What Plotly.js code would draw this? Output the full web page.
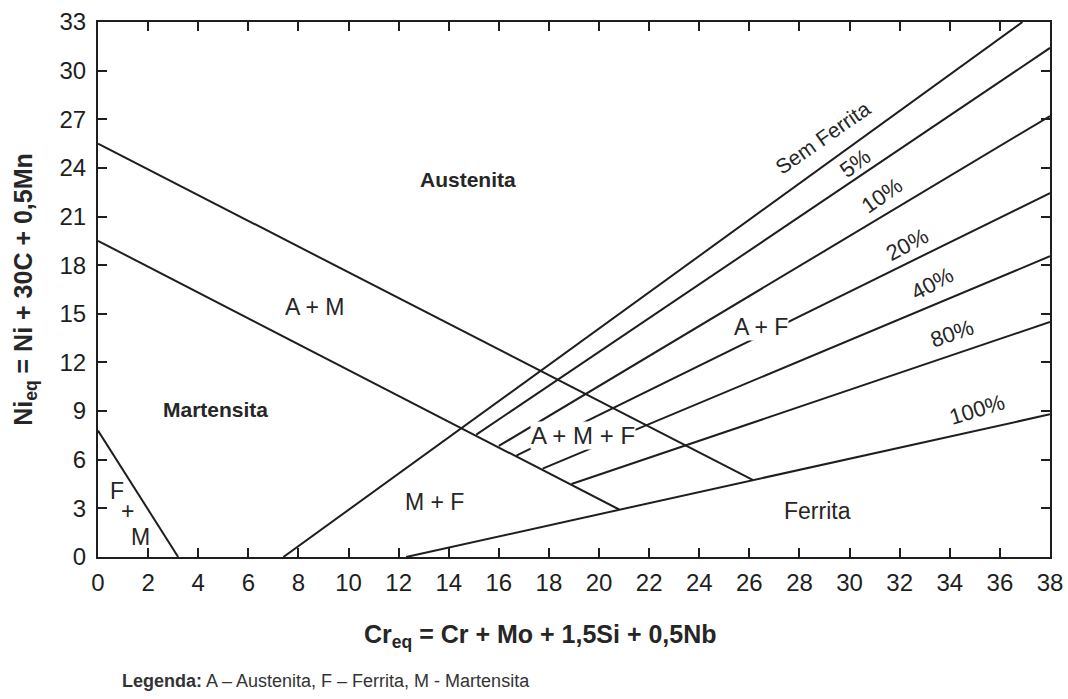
<!DOCTYPE html>
<html>
<head>
<meta charset="utf-8">
<script src="https://cdn.plot.ly/plotly-3.0.1.min.js"></script>
<style>html,body{margin:0;padding:0;background:#fff;}#chart{width:1068px;height:699px;}</style>
</head>
<body>
<div id="chart"></div>
<script>
// Boundary lines of the Schaeffler diagram (Cr_eq, Ni_eq endpoints)
const austeniteBoundaryX = [0, 26.15];
const austeniteBoundaryY = [25.5, 4.74];
const martensiteBoundaryX = [0, 20.8];
const martensiteBoundaryY = [19.5, 2.93];
const ferriteMartX = [0, 3.2];
const ferriteMartY = [7.8, 0];
const semFerritaX = [7.4, 36.9];
const semFerritaY = [0, 33];
const ferrite5X = [15.1, 38];
const ferrite5Y = [7.55, 31.4];
const ferrite10X = [16.0, 38];
const ferrite10Y = [6.85, 27.2];
const ferrite20X = [16.7, 38];
const ferrite20Y = [6.25, 22.45];
const ferrite40X = [17.75, 38];
const ferrite40Y = [5.45, 18.55];
const ferrite80X = [18.9, 38];
const ferrite80Y = [4.5, 14.5];
const ferrite100X = [12.3, 38];
const ferrite100Y = [0, 8.8];

const lineSets = [
  [austeniteBoundaryX, austeniteBoundaryY],
  [martensiteBoundaryX, martensiteBoundaryY],
  [ferriteMartX, ferriteMartY],
  [semFerritaX, semFerritaY],
  [ferrite5X, ferrite5Y],
  [ferrite10X, ferrite10Y],
  [ferrite20X, ferrite20Y],
  [ferrite40X, ferrite40Y],
  [ferrite80X, ferrite80Y],
  [ferrite100X, ferrite100Y]
];

const lineColor = '#1e1e1e';
const traces = lineSets.map(s => ({
  x: s[0], y: s[1], type: 'scatter', mode: 'lines',
  line: {color: lineColor, width: 2}, hoverinfo: 'skip', showlegend: false
}));

const F = 'Liberation Sans, Arial, sans-serif';
function lab(text, x, y, opts) {
  opts = opts || {};
  return {
    text: text, x: x, y: y, xref: 'x', yref: 'y', showarrow: false,
    font: {family: F, size: opts.size || 23, color: '#262626'},
    textangle: opts.angle || 0,
    bgcolor: opts.bg || 'rgba(0,0,0,0)', borderpad: 0
  };
}

const annotations = [
  lab('<b>Austenita</b>', 14.77, 23.3, {size: 21}),
  lab('A + M', 8.66, 15.4),
  lab('<b>Martensita</b>', 4.67, 9.1, {size: 21}),
  lab('F', 0.76, 4.1),
  lab('+', 1.16, 2.85),
  lab('M', 1.68, 1.23),
  lab('M + F', 13.45, 3.4),
  lab('A + M + F', 19.36, 7.47, {bg: '#ffffff', size: 24}),
  lab('A + F', 26.47, 14.2, {bg: '#ffffff'}),
  lab('Ferrita', 28.7, 2.84),
  lab('Sem Ferrita', 28.94, 25.86, {angle: -35, size: 21}),
  lab('5%', 30.2, 24.3, {angle: -37, size: 22}),
  lab('10%', 31.3, 22.3, {angle: -35, size: 22}),
  lab('20%', 32.3, 19.3, {angle: -28, size: 22}),
  lab('40%', 33.3, 16.9, {angle: -28, size: 22}),
  lab('80%', 34.1, 13.8, {angle: -19, size: 22}),
  lab('100%', 35.1, 9.07, {angle: -17, size: 22}),
  {
    text: '<b>Cr<sub>eq</sub> = Cr + Mo + 1,5Si + 0,5Nb</b>',
    xref: 'paper', yref: 'paper', x: (540 - 98) / 952, y: (557 - 636) / 535,
    xanchor: 'center', yanchor: 'middle', showarrow: false,
    font: {family: F, size: 25, color: '#262626'}
  },
  {
    text: '<b>Legenda:</b> A – Austenita, F – Ferrita, M - Martensita',
    xref: 'paper', yref: 'paper', x: (120 - 98) / 952, y: (557 - 681) / 535,
    xanchor: 'left', yanchor: 'middle', showarrow: false,
    font: {family: F, size: 18, color: '#333333'}
  }
];

const axisCommon = {
  showgrid: false, zeroline: false, showline: true, linecolor: lineColor, linewidth: 2,
  ticks: 'inside', ticklen: 9, tickwidth: 2, tickcolor: lineColor, mirror: 'ticks',
  tickfont: {family: F, size: 24, color: '#1e1e1e'}, fixedrange: true
};

const layout = {
  width: 1068, height: 699,
  margin: {l: 98, r: 18, t: 22, b: 142},
  paper_bgcolor: '#ffffff', plot_bgcolor: '#ffffff',
  xaxis: Object.assign({}, axisCommon, {range: [0, 38], dtick: 2, tick0: 0, ticklabelstandoff: 3}),
  yaxis: Object.assign({}, axisCommon, {range: [0, 33], dtick: 3, tick0: 0, ticklabelstandoff: 5,
    title: {text: '<b>Ni<sub>eq</sub> = Ni + 30C + 0,5Mn</b>', font: {family: F, size: 25, color: '#262626'}, standoff: 20}}),
  annotations: annotations,
  showlegend: false
};

Plotly.newPlot('chart', traces, layout, {displayModeBar: false, staticPlot: true});
</script>
</body>
</html>
